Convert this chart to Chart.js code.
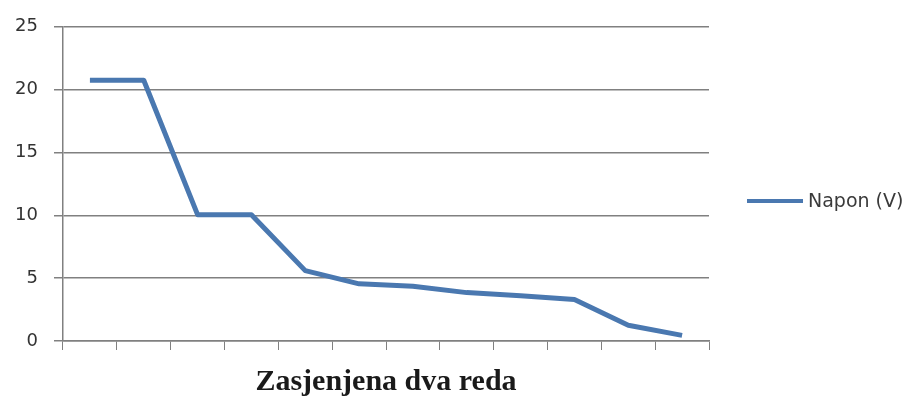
<!DOCTYPE html>
<html>
<head>
<meta charset="utf-8">
<script src="https://cdn.jsdelivr.net/npm/chart.js@4"></script>
<style>
  html, body { margin: 0; padding: 0; background: #fff; }
  #wrap { width: 916px; height: 400px; }
</style>
</head>
<body>
<div id="wrap"><canvas id="napon_chart"></canvas></div>
<script>
// podaci
const categories = ['1', '2', '3', '4', '5', '6', '7', '8', '9', '10', '11', '12'];
const napon = [20.75, 20.75, 10.05, 10.05, 5.6, 4.55, 4.35, 3.85, 3.6, 3.3, 1.25, 0.45];
const yTicks = [0, 5, 10, 15, 20, 25];
const seriesLabel = 'Napon (V)';
const axisTitle = 'Zasjenjena dva reda';

const gridColor = '#808080';
const lineColor = '#4a78b0';

// legenda desno (crta + tekst)
const legendRight = {
  id: 'legendRight',
  afterDraw(chart) {
    const ctx = chart.ctx;
    const ds = chart.data.datasets[0];
    const x0 = chart.chartArea.right + 38;
    const y = 201;
    ctx.save();
    ctx.strokeStyle = ds.borderColor;
    ctx.lineWidth = 4;
    ctx.beginPath();
    ctx.moveTo(x0, y);
    ctx.lineTo(x0 + 56, y);
    ctx.stroke();
    ctx.fillStyle = '#3a3a3a';
    ctx.font = '19px "DejaVu Sans"';
    ctx.textBaseline = 'middle';
    ctx.fillText(ds.label, x0 + 61, y + 1);
    ctx.restore();
  }
};

const ctx_napon = document.getElementById('napon_chart');
const data_napon = {
  labels: categories,
  datasets: [{
    label: seriesLabel,
    data: napon,
    borderColor: lineColor,
    backgroundColor: lineColor,
    borderWidth: 5,
    pointRadius: 0,
    tension: 0,
    borderJoinStyle: 'round',
    fill: false
  }]
};
const config_napon = {
  type: 'line',
  data: data_napon,
  plugins: [legendRight],
  options: {
    responsive: true,
    maintainAspectRatio: false,
    animation: false,
    layout: { padding: { top: 23, right: 207, bottom: 0, left: 0 } },
    plugins: {
      legend: { display: false },
      tooltip: { enabled: false }
    },
    scales: {
      x: {
        offset: true,
        grid: {
          offset: true,
          drawOnChartArea: false,
          drawTicks: true,
          tickLength: 9,
          color: gridColor
        },
        border: { display: true, color: gridColor, width: 1.5 },
        ticks: { display: false },
        title: {
          display: true,
          text: axisTitle,
          color: '#1a1a1a',
          font: { family: '"Liberation Serif", "Times New Roman", serif', size: 30, weight: 'bold' },
          padding: { top: 0, bottom: 0 }
        },
        afterFit(scale) { scale.height = 59; }
      },
      y: {
        min: 0,
        max: 25,
        afterBuildTicks(scale) { scale.ticks = yTicks.map(v => ({ value: v })); },
        grid: {
          color: gridColor,
          lineWidth: 1.5,
          drawTicks: true,
          tickLength: 9
        },
        border: { display: true, color: gridColor, width: 1.5 },
        ticks: {
          color: '#333333',
          padding: 16,
          font: { family: '"DejaVu Sans"', size: 18 }
        },
        afterFit(scale) { scale.width = 63; }
      }
    }
  }
};
const myChart_napon = new Chart(ctx_napon, config_napon);
</script>
</body>
</html>
